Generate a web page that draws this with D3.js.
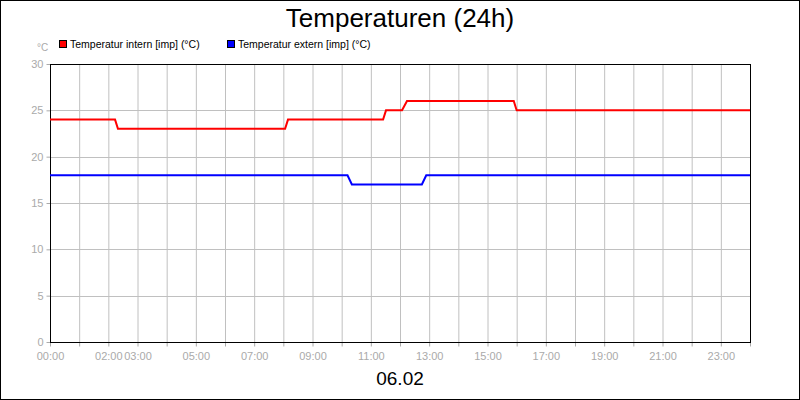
<!DOCTYPE html><html><head><meta charset="utf-8"><script src="https://cdn.jsdelivr.net/npm/d3@7"></script>
<style>body{margin:0}svg{display:block;font-family:"Liberation Sans",Arial,sans-serif}</style></head><body><svg width="800" height="400"></svg><script>
const internT=[0,2.23,2.33,8.06,8.16,11.42,11.52,12.07,12.24,15.9,16.0,24];
const internV=[24,24,23,23,24,24,25,25,26,26,25,25];
const externT=[0,10.2,10.35,12.75,12.9,24];
const externV=[18,18,17,17,18,18];
const yTicks=[0,5,10,15,20,25,30];
const xTickLabels=["00:00","","02:00","03:00","","05:00","","07:00","","09:00","","11:00","","13:00","","15:00","","17:00","","19:00","","21:00","","23:00",""];
const svg=d3.select("svg");
svg.append("rect").attr("x",0.5).attr("y",0.5).attr("width",799).attr("height",399).attr("fill","#fff").attr("stroke","#000");
const x=d3.scaleLinear().domain([0,24]).range([50,750]);
const y=d3.scaleLinear().domain([0,30]).range([342,64]);
const hours=d3.range(0,25);
svg.append("g").selectAll("line").data(hours.slice(1,24)).join("line").attr("x1",d=>x(d)+.5).attr("x2",d=>x(d)+.5).attr("y1",64).attr("y2",342).attr("stroke","#c0c0c0");
svg.append("g").selectAll("line").data(yTicks.slice(1,6)).join("line").attr("y1",d=>Math.round(y(d))+.5).attr("y2",d=>Math.round(y(d))+.5).attr("x1",50).attr("x2",750).attr("stroke","#c0c0c0");
const xa=svg.append("g").attr("transform","translate(0,342.5)").call(d3.axisBottom(x).tickValues(hours).tickSize(4).tickSizeOuter(0).tickFormat((d,i)=>xTickLabels[i]||""));
const ya=svg.append("g").attr("transform","translate(50.5,0)").call(d3.axisLeft(y).tickValues(yTicks).tickSize(4).tickSizeOuter(0));
[xa,ya].forEach(a=>{a.selectAll("line").attr("stroke","#aaa");a.select(".domain").remove();a.selectAll("text").attr("fill","#aaa").attr("font-size",11).attr("font-family","Liberation Sans,Arial,sans-serif");});
xa.selectAll("text").attr("dy","0.95em");
svg.append("rect").attr("x",50.5).attr("y",64.5).attr("width",700).attr("height",278).attr("fill","none").attr("stroke","#000");
const line=d3.line().x(d=>x(d[0])).y(d=>y(d[1]));
svg.append("path").datum(internT.map((t,i)=>[t,internV[i]])).attr("d",line).attr("fill","none").attr("stroke","#f00").attr("stroke-width",2);
svg.append("path").datum(externT.map((t,i)=>[t,externV[i]])).attr("d",line).attr("fill","none").attr("stroke","#00f").attr("stroke-width",2);
svg.append("text").attr("x",400).attr("y",27).attr("text-anchor","middle").attr("font-size",26).text("Temperaturen (24h)");
svg.append("text").attr("x",400).attr("y",385).attr("text-anchor","middle").attr("font-size",19).text("06.02");
svg.append("text").attr("x",37).attr("y",51).attr("font-size",10).attr("fill","#aaa").text("°C");
const leg=[["Temperatur intern [imp] (°C)","#f00",59],["Temperatur extern [imp] (°C)","#00f",227]];
leg.forEach(([t,c,lx])=>{svg.append("rect").attr("x",lx+.5).attr("y",40.5).attr("width",7).attr("height",7).attr("fill",c).attr("stroke","#000");
svg.append("text").attr("x",lx+11).attr("y",48).attr("font-size",10.5).text(t);});
</script></body></html>
